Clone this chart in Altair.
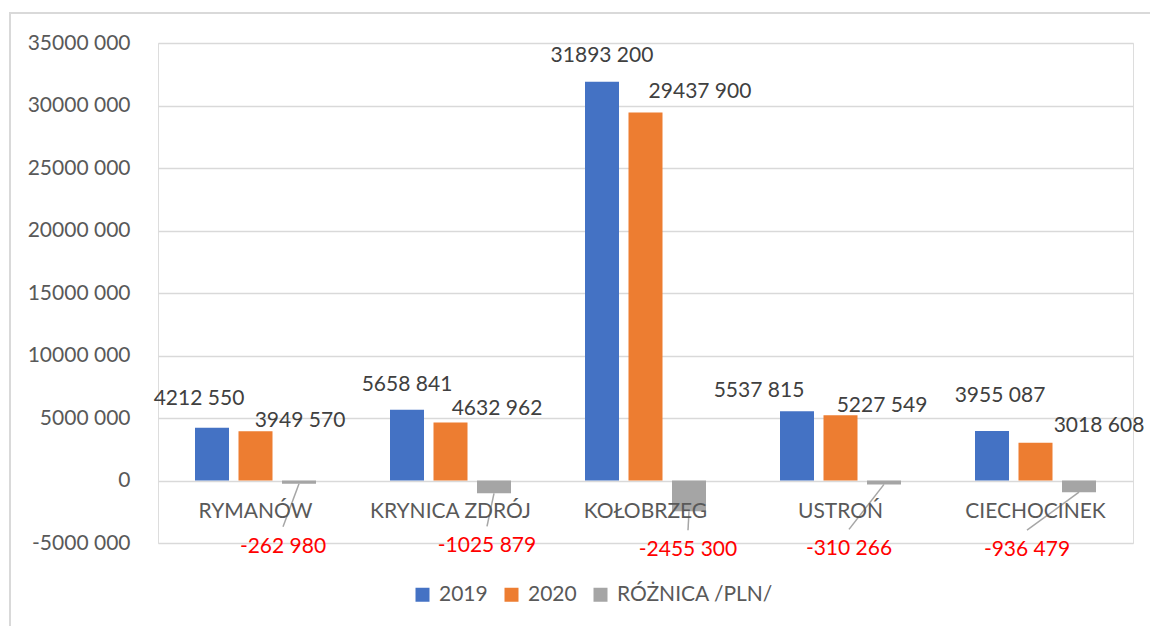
import altair as alt
import pandas as pd

# ---------------- data ----------------
categories = ["RYMANÓW", "KRYNICA ZDRÓJ", "KOŁOBRZEG", "USTROŃ", "CIECHOCINEK"]
series_names = ["2019", "2020", "RÓŻNICA /PLN/"]
values_2019 = [4212550, 5658841, 31893200, 5537815, 3955087]
values_2020 = [3949570, 4632962, 29437900, 5227549, 3018608]
values_diff = [-262980, -1025879, -2455300, -310266, -936479]
y_ticks = [-5000000, 0, 5000000, 10000000, 15000000, 20000000, 25000000, 30000000, 35000000]

# ---------------- styles / layout ----------------
colors = ["#4472C4", "#ED7D31", "#A5A5A5"]
FONT = "Lato"
FS = 21
W, H = 975, 500
Y_MIN, Y_MAX = -5000000, 35000000
PX_X = W / len(categories)          # pixels per category unit
PX_Y = H / (Y_MAX - Y_MIN)          # pixels per value unit
SERIES_SHIFT = 43.5 / PX_X          # centre distance between bars (category units)
BAR_HALF = 17 / PX_X                # half bar width (category units)

# data-label offsets in pixels, relative to the bar end (dx right, dy down)
label_dx = [[-13, 0, 0, -38, 8],
            [44.5, 46.5, 54.5, 41.5, 63.5],
            [-16, -7, -1, -35, -52]]
label_dy = [[-29, -25, -26, -20, -35.5],
            [-10, -14, -21, -9, -17],
            [63, 53, 39, 65, 58]]
LEADER_GAP = 20  # leader line stops this many px above label centre


def fmt(v):
    s = "-" if v < 0 else ""
    a = abs(v)
    return f"{s}{a // 1000} {a % 1000:03d}"


rows = []
all_values = [values_2019, values_2020, values_diff]
for j, sname in enumerate(series_names):
    for i, cat in enumerate(categories):
        v = all_values[j][i]
        xc = i + 0.5 + (j - 1) * SERIES_SHIFT
        lx = xc + label_dx[j][i] / PX_X
        ly = v - label_dy[j][i] / PX_Y
        rows.append(dict(
            category=cat, series=sname, value=v,
            xc=xc, xl=xc - BAR_HALF, xr=xc + BAR_HALF,
            label=fmt(v), label_color="#FF0000" if v < 0 else "#404040",
            lx=lx, ly=ly, ly_end=ly + LEADER_GAP / PX_Y,
        ))
df = pd.DataFrame(rows)
cat_df = pd.DataFrame({"category": categories, "xc": [i + 0.5 for i in range(len(categories))]})

x_scale = alt.Scale(domain=[0, len(categories)], nice=False, zero=False)
y_scale = alt.Scale(domain=[Y_MIN, Y_MAX], nice=False)

bars = alt.Chart(df).mark_bar().encode(
    x=alt.X("xl:Q", scale=x_scale, axis=None),
    x2="xr:Q",
    y=alt.Y("value:Q", scale=y_scale,
            axis=alt.Axis(values=y_ticks, title=None, grid=True, gridColor="#D9D9D9",
                          gridWidth=1.3, domain=False, ticks=False, labelPadding=28,
                          labelFont=FONT, labelFontSize=FS, labelColor="#595959",
                          labelExpr="datum.value == 0 ? '0' : (datum.value/1000) + ' 000'")),
    y2=alt.datum(0),
    color=alt.Color("series:N",
                    scale=alt.Scale(domain=series_names, range=colors),
                    legend=alt.Legend(title=None, orient="none", direction="horizontal",
                                      legendX=254, legendY=541, symbolType="square",
                                      symbolSize=196, symbolStrokeWidth=0, labelOffset=6,
                                      columnPadding=13, labelFont=FONT, labelFontSize=FS,
                                      labelColor="#595959", padding=0)),
)

leaders = alt.Chart(df).transform_filter("datum.value < 0").mark_rule(
    color="#A6A6A6", strokeWidth=1.5
).encode(
    x=alt.X("xc:Q", scale=x_scale),
    y=alt.Y("value:Q", scale=y_scale),
    x2="lx:Q",
    y2="ly_end:Q",
)

labels = alt.Chart(df).mark_text(font=FONT, fontSize=FS, baseline="middle", align="center").encode(
    x=alt.X("lx:Q", scale=x_scale),
    y=alt.Y("ly:Q", scale=y_scale),
    text="label:N",
    color=alt.Color("label_color:N", scale=None),
)

cat_labels = alt.Chart(cat_df).mark_text(
    font=FONT, fontSize=FS, baseline="middle", align="center", dy=31, color="#595959"
).encode(
    x=alt.X("xc:Q", scale=x_scale),
    y=alt.YDatum(0),
    text="category:N",
)

frame = alt.Chart(cat_df).mark_rect(filled=False, stroke="#D9D9D9", strokeWidth=1.5).encode(
    x=alt.value(-148), x2=alt.value(1100), y=alt.value(-30), y2=alt.value(640)
)

chart = alt.layer(frame, bars, leaders, labels, cat_labels).properties(
    width=W, height=H,
    autosize=alt.AutoSizeParams(type="none"),
    padding={"left": 158, "top": 43, "right": 17, "bottom": 83},
).configure_view(stroke=None).configure(background="white")

chart.save("out.html", embed_options={"renderer": "svg", "actions": False})
